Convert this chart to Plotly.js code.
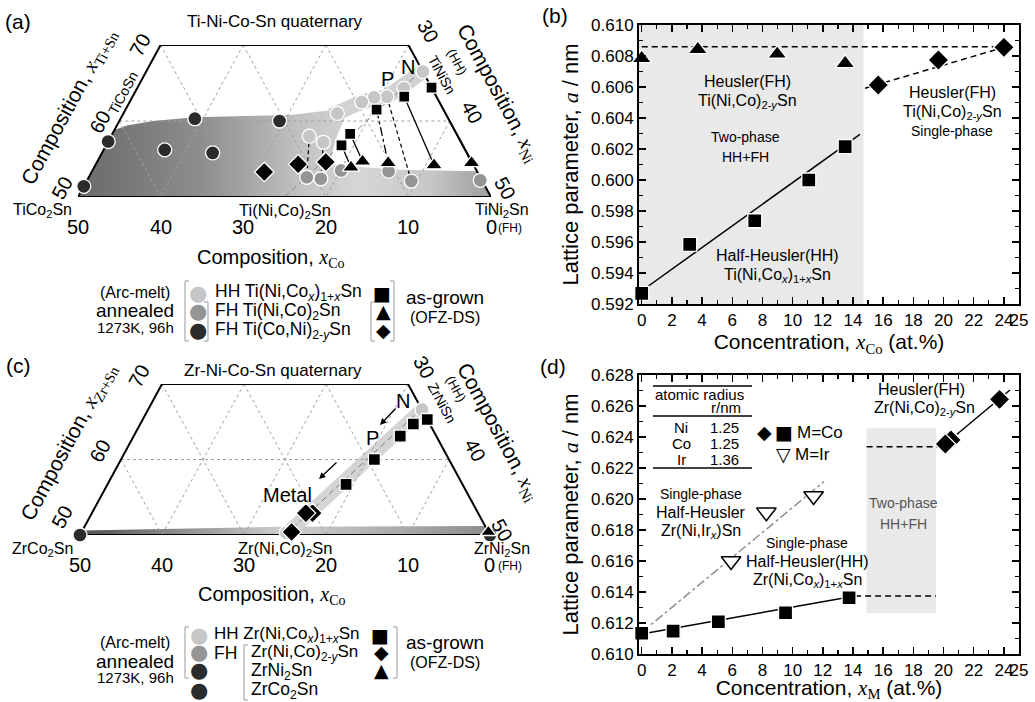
<!DOCTYPE html>
<html><head><meta charset="utf-8">
<script src="https://cdn.plot.ly/plotly-3.0.1.min.js"></script>
<style>html,body{margin:0;padding:0;background:#fff}#chart{width:1035px;height:702px}</style>
</head><body><div id="chart"></div>
<script>
// ================= DATA =================
// (a) Ti-Ni-Co-Sn quaternary, compositions in at.% [xCo, xNi]
const tiHH_Co=[0,3.4,6.0,7.6,9.4,13.1,18.0,16.7];
const tiHH_Ni=[33.5,32.3,30.8,29.3,28.1,25.9,24.0,26.1];
const tiFH_Co=[0.2,8.6,10.7,16.4,19.4,21.0];
const tiFH_Ni=[47.6,39.3,35.9,30.1,28.2,26.4];
const tiFHy_Co=[48.6,42.7,36.4,30.7,30.8,20.6];
const tiFHy_Ni=[0,0,7.4,9.0,13.4,19.4];
const tiSq_Co=[0,3.9,8.1,12.9,14.7];
const tiSq_Ni=[35.6,32.9,30.4,28.8,28.5];
const tiTri_Co=[0.1,4.8,10.2,13.2,15.0];
const tiTri_Ni=[45.4,41.0,35.3,32.1,31.1];
const tiDia_Co=[17.7,21.2,25.8];
const tiDia_Ni=[27.7,24.5,20.9];
const tiTieSqTri=[[0,0,'solid'],[1,1,'solid'],[2,2,'dashdot'],[3,3,'solid'],[4,4,'solid']];
const tiTieHHFH=[[2,1],[6,5],[7,4]];
const tiRegion_Co=[50,41.2,39.4,35.9,30.6,18.9,12.9,12.5,15.1,17.4,9.2,0,0,50];
const tiRegion_Ni=[0,0,1.2,4.1,8.9,20.3,25.6,27.1,27.4,28.4,37.2,46.6,50,0];
const tiBand_Co=[14.0,9.4,6.0,0];
const tiBand_Ni=[25.3,28.1,30.8,33.5];

// (c) Zr-Ni-Co-Sn quaternary [xCo, xNi]
const zrHH_Co=[0], zrHH_Ni=[33.4];
const zrFH_Co=[24.7], zrFH_Ni=[25.0];
const zrEnd_Co=[50,0], zrEnd_Ni=[0,50];
const zrSq_Co=[0,2.0,4.4,9.1,14.2];
const zrSq_Ni=[34.7,33.3,32.5,30.9,29.1];
const zrDia_Co=[20.2,21.0,24.0];
const zrDia_Ni=[26.9,26.1,25.6];
const zrTri_Co=[0], zrTri_Ni=[49.6];
const zrBand_Co=[24.5,0], zrBand_Ni=[25.2,33.4];
const zrBase_Co=[50,49.4,25,0,0,50], zrBase_Ni=[0,0,23.9,48.8,50,0];

// compound reference line M(Ni,Co)2Sn -> MNiSn
const tieLine_Co=[25,0], tieLine_Ni=[25,33.3];
const gridLevels=[10,20,30,40];
const coTickLabels=[50,40,30,20,10,0];

// (b) lattice parameter vs xCo (Ti system)
const bTri_x=[0,3.72,8.98,13.48], bTri_y=[0.60785,0.60843,0.60813,0.60753];
const bSq_x=[0,3.18,7.49,11.07,13.48], bSq_y=[0.59269,0.59585,0.59737,0.6000,0.60215];
const bDia_x=[15.67,19.66,24.0], bDia_y=[0.60613,0.60774,0.60856];
const bFitHH_x=[0.33,14.46], bFitHH_y=[0.59308,0.60295];
const bFitFH_x=[14.8,24.0], bFitFH_y=[0.60592,0.60856];
const bLevel_x=[0,24.0], bLevel_y=[0.6086,0.6086];
const bTwoPhase_x=[-0.18,14.7];

// (d) lattice parameter vs xM (Zr system)
const dSq_x=[0,2.08,5.08,9.53,13.74], dSq_y=[0.61134,0.61148,0.61208,0.61266,0.61363];
const dDia_x=[20.49,20.12,23.71], dDia_y=[0.62381,0.62355,0.62643];
const dIr_x=[5.92,8.26,11.39], dIr_y=[0.6160,0.61914,0.62019];
const dFitCo_x=[0,14.14], dFitCo_y=[0.61129,0.61374];
const dFitIr_x=[0,12.07], dFitIr_y=[0.6114,0.62112];
const dFitFH_x=[20.12,24.4], dFitFH_y=[0.62355,0.62703];
const dLevelHH_x=[14.14,19.5], dLevelHH_y=[0.61374,0.61374];
const dLevelFH_x=[14.9,20.12], dLevelFH_y=[0.62337,0.62337];
const dTwoPhase_x=[14.9,19.5], dTwoPhase_y=[0.61263,0.62456];
const radiusElem=['Ni','Co','Ir'], radiusVal=[1.25,1.25,1.36];

const concTicks=[0,2,4,6,8,10,12,14,16,18,20,22,24,25];
const bYTicks=[0.592,0.594,0.596,0.598,0.600,0.602,0.604,0.606,0.608,0.610];
const dYTicks=[0.610,0.612,0.614,0.616,0.618,0.620,0.622,0.624,0.626,0.628];

// ================= HELPERS =================
const W=1035,H=702;
const F='Liberation Sans, Arial, sans-serif';
const SER='font-family:Liberation Serif';
const IX='<span style="'+SER+'"><i>x</i></span>';
const sub=s=>'<sub><span style="'+SER+'">'+s+'</span></sub>';
const cLight='#c6c6c6', cMed='#959595', cDark='#2b2b2b';

function tern(co,ni){const a=100-co-ni;return [ni+a/2,a];}
function T(coA,niA){const x=[],y=[];for(let i=0;i<coA.length;i++){const p=tern(coA[i],niA[i]);x.push(p[0]);y.push(p[1]);}return {x,y};}

const traces=[];
function addT(coA,niA,xa,ya,props){const p=T(coA,niA);traces.push(Object.assign({x:p.x,y:p.y,xaxis:xa,yaxis:ya,cliponaxis:false,hoverinfo:'skip',showlegend:false},props));}

function gridTraces(xa,ya){
  const gx=[],gy=[];
  const seg=(c1,n1,c2,n2)=>{const p=tern(c1,n1),q=tern(c2,n2);gx.push(p[0],q[0],null);gy.push(p[1],q[1],null);};
  gridLevels.forEach(v=>{seg(v,Math.max(0,30-v),v,50-v);seg(Math.max(0,30-v),v,50-v,v);});
  seg(40,0,0,40);
  traces.push({x:gx,y:gy,xaxis:xa,yaxis:ya,mode:'lines',line:{color:'#a0a0a0',width:1,dash:'3px,3px'},cliponaxis:false,hoverinfo:'skip',showlegend:false});
}
function edgeTrace(xa,ya){addT([50,30,0,0,50],[0,0,30,50,0],xa,ya,{mode:'lines',line:{color:'#000',width:2}});}
const mk=(sym,color,size,lc,lw)=>({symbol:sym,color:color,size:size,line:{color:lc||'#fff',width:lw===undefined?1.3:lw}});

// ================= PANEL (a) =================
addT(tiRegion_Co,tiRegion_Ni,'x3','y3',{mode:'lines',fill:'toself',line:{width:0,color:'rgba(0,0,0,0)'},
  fillgradient:{type:'horizontal',start:25,stop:75,colorscale:[[0,'#6a6a6a'],[0.3,'#8e8e8e'],[0.55,'#c4c4c4'],[0.68,'#d6d6d6'],[0.85,'#c8c8c8'],[1,'#9c9c9c']]}});
addT(tiBand_Co,tiBand_Ni,'x3','y3',{mode:'lines',line:{color:'#d2d2d2',width:15}});
gridTraces('x3','y3');
addT(tieLine_Co,tieLine_Ni,'x3','y3',{mode:'lines',line:{color:'#8a8a8a',width:1,dash:'6px,4px'}});
tiTieSqTri.forEach(t=>addT([tiSq_Co[t[0]],tiTri_Co[t[1]]],[tiSq_Ni[t[0]],tiTri_Ni[t[1]]],'x3','y3',{mode:'lines',line:{color:'#000',width:1.3,dash:t[2]}}));
tiTieHHFH.forEach(t=>addT([tiHH_Co[t[0]],tiFH_Co[t[1]]],[tiHH_Ni[t[0]],tiFH_Ni[t[1]]],'x3','y3',{mode:'lines',line:{color:'#000',width:1.2,dash:'4px,3px'}}));
edgeTrace('x3','y3');
addT(tiHH_Co,tiHH_Ni,'x3','y3',{mode:'markers',marker:mk('circle',cLight,14)});
addT(tiFH_Co,tiFH_Ni,'x3','y3',{mode:'markers',marker:mk('circle',cMed,14)});
addT(tiFHy_Co,tiFHy_Ni,'x3','y3',{mode:'markers',marker:mk('circle',cDark,14)});
addT(tiSq_Co,tiSq_Ni,'x3','y3',{mode:'markers',marker:mk('square','#000',11)});
addT(tiTri_Co,tiTri_Ni,'x3','y3',{mode:'markers',marker:mk('triangle-up','#000',15)});
addT(tiDia_Co,tiDia_Ni,'x3','y3',{mode:'markers',marker:mk('diamond','#000',15)});

// ================= PANEL (c) =================
addT(zrBase_Co,zrBase_Ni,'x4','y4',{mode:'lines',fill:'toself',line:{width:0,color:'rgba(0,0,0,0)'},
  fillgradient:{type:'horizontal',start:25,stop:75,colorscale:[[0,'#505050'],[0.5,'#d0d0d0'],[1,'#8c8c8c']]}});
addT(zrBand_Co,zrBand_Ni,'x4','y4',{mode:'lines',line:{color:'#d4d4d4',width:14}});
gridTraces('x4','y4');
addT(tieLine_Co,tieLine_Ni,'x4','y4',{mode:'lines',line:{color:'#7a7a7a',width:1,dash:'6px,4px'}});
edgeTrace('x4','y4');
addT(zrHH_Co,zrHH_Ni,'x4','y4',{mode:'markers',marker:mk('circle',cLight,14)});
addT(zrFH_Co,zrFH_Ni,'x4','y4',{mode:'markers',marker:mk('circle',cLight,14)});
addT(zrEnd_Co,zrEnd_Ni,'x4','y4',{mode:'markers',marker:mk('circle',cDark,14)});
addT(zrSq_Co,zrSq_Ni,'x4','y4',{mode:'markers',marker:mk('square','#000',12)});
addT(zrDia_Co,zrDia_Ni,'x4','y4',{mode:'markers',marker:mk('diamond','#000',15)});
addT(zrTri_Co,zrTri_Ni,'x4','y4',{mode:'markers',marker:mk('triangle-up','#000',14)});

// ================= PANEL (b) =================
const L=(x,y,xa,ya,line)=>traces.push({x,y,xaxis:xa,yaxis:ya,mode:'lines',line,hoverinfo:'skip',showlegend:false,cliponaxis:false});
const M=(x,y,xa,ya,marker)=>traces.push({x,y,xaxis:xa,yaxis:ya,mode:'markers',marker,hoverinfo:'skip',showlegend:false,cliponaxis:false});
L(bLevel_x,bLevel_y,'x','y',{color:'#000',width:1.5,dash:'6px,4px'});
L(bFitFH_x,bFitFH_y,'x','y',{color:'#000',width:1.5,dash:'6px,4px'});
L(bFitHH_x,bFitHH_y,'x','y',{color:'#000',width:1.5});
M(bTri_x,bTri_y,'x','y',mk('triangle-up','#000',17));
M(bSq_x,bSq_y,'x','y',mk('square','#000',14));
M(bDia_x,bDia_y,'x','y',mk('diamond','#000',16));

// ================= PANEL (d) =================
L(dFitIr_x,dFitIr_y,'x2','y2',{color:'#909090',width:1.5,dash:'dashdot'});
L(dFitCo_x,dFitCo_y,'x2','y2',{color:'#000',width:1.5});
L(dLevelHH_x,dLevelHH_y,'x2','y2',{color:'#000',width:1.5,dash:'6px,4px'});
L(dLevelFH_x,dLevelFH_y,'x2','y2',{color:'#000',width:1.5,dash:'6px,4px'});
L(dFitFH_x,dFitFH_y,'x2','y2',{color:'#000',width:1.5});
M(dSq_x,dSq_y,'x2','y2',mk('square','#000',14));
M(dDia_x,dDia_y,'x2','y2',mk('diamond','#000',16));
M(dIr_x,dIr_y,'x2','y2',mk('triangle-down','#fff',17,'#000',1.5));

// ================= LAYOUT =================
const ann=[];
function A(px,py,text,size,o){ann.push(Object.assign({xref:'paper',yref:'paper',x:px/W,y:1-py/H,text:text,showarrow:false,
  font:{family:F,size:size,color:'#000'},xanchor:'center',yanchor:'middle'},o||{}));}
function G(px,py,glyph,size,color){A(px,py,glyph,size,{font:{family:'DejaVu Sans',size:size,color:color||'#000'}});}
const shapes=[];
function S(x0,y0,x1,y1,color,w){shapes.push({type:'line',xref:'paper',yref:'paper',x0:x0/W,y0:1-y0/H,x1:x1/W,y1:1-y1/H,line:{color:color||'#000',width:w||1.5}});}
function bracket(x,y0,y1,dir){const d=dir*4;S(x,y0,x,y1,'#b0b0b0',1.3);S(x,y0,x+d,y0,'#b0b0b0',1.3);S(x,y1,x+d,y1,'#b0b0b0',1.3);}

// --- panel (a) texts
const ANG=61.6;
A(18,21,'(a)',21);
A(275,21,'Ti-Ni-Co-Sn quaternary',17);
A(69,107,'Composition, '+IX+sub('Ti+Sn'),21,{textangle:-ANG});
A(62,188,'50',20,{textangle:-ANG});A(100,122,'60',20,{textangle:-ANG});A(140,45,'70',20,{textangle:-ANG});
A(123,93,'TiCoSn',14,{textangle:-ANG});
A(428,31,'30',20,{textangle:ANG});A(457,61,'(HH)',13,{textangle:ANG});A(442,75,'TiNiSn',14,{textangle:ANG});
A(472,112,'40',20,{textangle:ANG});A(505,188,'50',20,{textangle:ANG});
A(498,93,'Composition, '+IX+sub('Ni'),21,{textangle:ANG});
A(42,211,'TiCo<sub>2</sub>Sn',16);A(285,211,'Ti(Ni,Co)<sub>2</sub>Sn',16.5);A(502,211,'TiNi<sub>2</sub>Sn',16);
A(510,228,'(FH)',12);
coTickLabels.forEach(c=>{const p=tern(c,50-c);A(78+(p[0]-25)*8.26,227,String(c),20);});
A(271,259,'Composition, '+IX+sub('Co'),20);
A(387,79,'P',20);A(408,67,'N',20);
// legend (a)
A(135,292,'(Arc-melt)',16);A(135,310,'annealed',19);A(135,327,'1273K, 96h',15);
G(198,293,'●',21,cLight);G(198,311,'●',21,cMed);G(198,330,'●',21,cDark);
A(213,293,'HH Ti(Ni,Co<sub><i>x</i></sub>)<sub>1+<i>x</i></sub>Sn',17.5,{xanchor:'left'});
A(213,311,'FH Ti(Ni,Co)<sub>2</sub>Sn',17.5,{xanchor:'left'});
A(213,330,'FH Ti(Co,Ni)<sub>2-<i>y</i></sub>Sn',17.5,{xanchor:'left'});
G(382,293,'■',19);G(383,311,'▲',19);G(383,330,'◆',19);
A(445,297,'as-grown',19);A(445,317,'(OFZ-DS)',16);
bracket(185,281,341,1);bracket(208,302,341,-1);bracket(371,302,341,1);bracket(394,281,341,-1);

// --- panel (c) texts
A(18,365,'(c)',21);
A(273,370,'Zr-Ni-Co-Sn quaternary',17);
A(69,442,'Composition, '+IX+sub('Zr+Sn'),21,{textangle:-ANG});
A(62,517,'50',20,{textangle:-ANG});A(100,451,'60',20,{textangle:-ANG});A(139,376,'70',20,{textangle:-ANG});
A(424,367,'30',20,{textangle:ANG});A(456,388,'(HH)',13,{textangle:ANG});A(442,403,'ZrNiSn',14,{textangle:ANG});
A(475,450,'40',20,{textangle:ANG});A(502,530,'50',20,{textangle:ANG});
A(498,432,'Composition, '+IX+sub('Ni'),21,{textangle:ANG});
A(42,549,'ZrCo<sub>2</sub>Sn',16);A(285,549,'Zr(Ni,Co)<sub>2</sub>Sn',16.5);A(502,549,'ZrNi<sub>2</sub>Sn',16);
A(510,566,'(FH)',12);
coTickLabels.forEach(c=>{const p=tern(c,50-c);A(80+(p[0]-25)*8.2,565,String(c),20);});
A(272,595,'Composition, '+IX+sub('Co'),20);
A(403,401,'N',20);A(372,438,'P',20);A(287,495,'Metal',20);
ann.push({xref:'paper',yref:'paper',x:380/W,y:1-425/H,ax:17,ay:-18,showarrow:true,arrowhead:2,arrowsize:1,arrowwidth:1.3,arrowcolor:'#000',text:''});
ann.push({xref:'paper',yref:'paper',x:319/W,y:1-479/H,ax:19,ay:-18,showarrow:true,arrowhead:2,arrowsize:1,arrowwidth:1.3,arrowcolor:'#000',text:''});
// legend (c)
A(135,642,'(Arc-melt)',16);A(135,661,'annealed',19);A(135,677,'1273K, 96h',15);
G(199,635,'●',21,cLight);G(199,652,'●',21,cMed);G(199,670,'●',21,cDark);G(199,690,'●',21,cDark);
A(212,635,'HH Zr(Ni,Co<sub><i>x</i></sub>)<sub>1+<i>x</i></sub>Sn',17,{xanchor:'left'});
A(212,653,'FH',17.5,{xanchor:'left'});
A(249,653,'Zr(Ni,Co)<sub>2-<i>y</i></sub>Sn',17,{xanchor:'left'});
A(249,671,'ZrNi<sub>2</sub>Sn',17.5,{xanchor:'left'});
A(249,690,'ZrCo<sub>2</sub>Sn',17.5,{xanchor:'left'});
G(380,635,'■',19);G(381,652,'◆',19);G(381,670,'▲',19);
A(445,642,'as-grown',19);A(445,662,'(OFZ-DS)',16);
bracket(185,627,678,1);bracket(244,645,700,1);bracket(397,627,678,-1);

// --- panel (b) texts
A(555,16,'(b)',21);
A(747,82,'Heusler(FH)',16);A(747,101,'Ti(Ni,Co)<sub>2-<i>y</i></sub>Sn',16);
A(745,137,'Two-phase',14);A(745,157,'HH+FH',14);
A(777,256,'Half-Heusler(HH)',16);A(777,276,'Ti(Ni,Co<sub><i>x</i></sub>)<sub>1+<i>x</i></sub>Sn',16);
A(952,92,'Heusler(FH)',16);A(952,112,'Ti(Ni,Co)<sub>2-<i>y</i></sub>Sn',16);A(952,131,'Single-phase',14);

// --- panel (d) texts
A(553,366,'(d)',21);
A(921,389,'Heusler(FH)',16);A(924,408,'Zr(Ni,Co)<sub>2-<i>y</i></sub>Sn',16);
A(807,543,'Single-phase',14);A(807,561,'Half-Heusler(HH)',16);A(807,580,'Zr(Ni,Co<sub><i>x</i></sub>)<sub>1+<i>x</i></sub>Sn',16);
A(701,494,'Single-phase',14);A(701,512,'Half-Heusler',16);A(701,531,'Zr(Ni,Ir<sub><i>x</i></sub>)Sn',16);
A(903,503,'Two-phase',14,{font:{family:F,size:14,color:'#555'}});A(903,524,'HH+FH',14,{font:{family:F,size:14,color:'#555'}});
A(699,394,'atomic radius',15);A(726,407,'r/nm',15);
radiusElem.forEach((e,i)=>{A(681,427+i*16,e,15);A(724,427+i*16,radiusVal[i].toFixed(2),15);});
S(653,386,752,386,'#000',1.3);S(653,416,752,416,'#000',1.3);S(653,468,752,468,'#000',1.3);
G(764,432,'◆',19);G(784,432,'■',19);
A(795,432,'M=Co',17,{xanchor:'left'});
G(783,454,'▽',19);
A(793,454,'M=Ir',17,{xanchor:'left'});

// shaded two-phase regions
shapes.push({type:'rect',xref:'x',yref:'y',x0:bTwoPhase_x[0],x1:bTwoPhase_x[1],y0:0.592,y1:0.610,fillcolor:'#e9e9e9',line:{width:0},layer:'below'});
shapes.push({type:'rect',xref:'x2',yref:'y2',x0:dTwoPhase_x[0],x1:dTwoPhase_x[1],y0:dTwoPhase_y[0],y1:dTwoPhase_y[1],fillcolor:'#e9e9e9',line:{width:0},layer:'below'});

const xdom=[639/W,1019/W];
function concAxis(anchor,title){
  return {domain:xdom,anchor:anchor,range:[-0.18,25],tickmode:'array',tickvals:concTicks,ticktext:concTicks.map(String),
    ticks:'inside',ticklen:7,tickwidth:1.5,tickcolor:'#000',mirror:'allticks',showline:true,linewidth:2,linecolor:'#000',
    showgrid:false,zeroline:false,tickangle:0,tickfont:{family:F,size:17,color:'#000'},
    minor:{ticks:'inside',ticklen:4,tickwidth:1.2,tickcolor:'#000',tickmode:'linear',tick0:0,dtick:1,showgrid:false},
    title:{text:title,font:{family:F,size:21,color:'#000'},standoff:2},fixedrange:true};
}
function latAxis(domY,anchor,tv,rng){
  return {domain:domY,anchor:anchor,range:rng,tickmode:'array',tickvals:tv,ticktext:tv.map(v=>v.toFixed(3)),
    ticks:'inside',ticklen:7,tickwidth:1.5,tickcolor:'#000',mirror:'allticks',showline:true,linewidth:2,linecolor:'#000',
    showgrid:false,zeroline:false,tickfont:{family:F,size:17,color:'#000'},
    minor:{ticks:'inside',ticklen:4,tickwidth:1.2,tickcolor:'#000',tickmode:'linear',tick0:0.592,dtick:0.001,showgrid:false},
    title:{text:'Lattice parameter, <span style="'+SER+'"><i>a</i></span> / nm',font:{family:F,size:22,color:'#000'},standoff:6},fixedrange:true};
}
const hid=(dom,rng)=>({domain:dom,range:rng,visible:false,fixedrange:true,showgrid:false,zeroline:false});

const layout={
  width:W,height:H,margin:{l:0,r:0,t:0,b:0},paper_bgcolor:'#fff',plot_bgcolor:'rgba(0,0,0,0)',showlegend:false,
  font:{family:F,color:'#000'},
  xaxis:concAxis('y','Concentration, '+IX+sub('Co')+' (at.%)'),
  yaxis:latAxis([1-304/H,1-25/H],'x',bYTicks,[0.592,0.610]),
  xaxis2:concAxis('y2','Concentration, '+IX+sub('M')+' (at.%)'),
  yaxis2:latAxis([1-654/H,1-375/H],'x2',dYTicks,[0.610,0.628]),
  xaxis3:Object.assign(hid([78/W,491/W],[25,75]),{anchor:'y3'}),
  yaxis3:Object.assign(hid([1-197/H,1-45/H],[50,70]),{anchor:'x3'}),
  xaxis4:Object.assign(hid([80/W,490/W],[25,75]),{anchor:'y4'}),
  yaxis4:Object.assign(hid([1-535/H,1-384/H],[50,70]),{anchor:'x4'}),
  annotations:ann,shapes:shapes
};
Plotly.newPlot('chart',traces,layout,{staticPlot:true,displayModeBar:false});
</script></body></html>
